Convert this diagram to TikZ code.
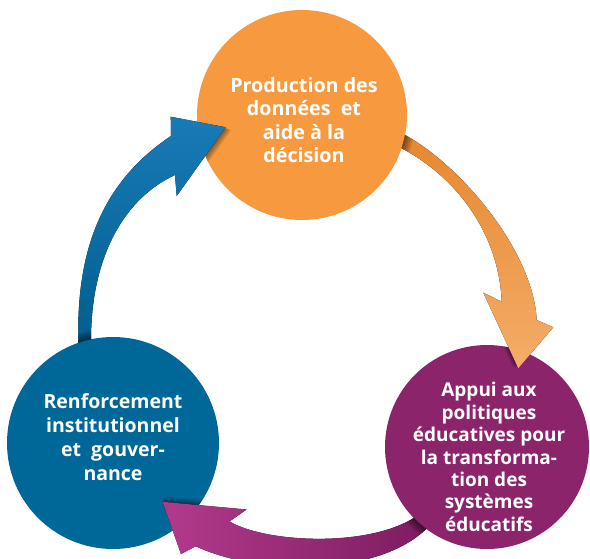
\documentclass[tikz,border=0pt]{standalone}
\usepackage{fontspec}
\setmainfont{Open Sans}
\definecolor{orangeC}{RGB}{247,154,63}
\definecolor{blueC}{RGB}{0,103,153}
\definecolor{purpleC}{RGB}{140,36,108}
\definecolor{blueA1}{RGB}{24,122,183}
\definecolor{blueA2}{RGB}{0,92,138}
\definecolor{orA1}{RGB}{231,134,46}
\definecolor{orA2}{RGB}{244,173,104}
\definecolor{puA1}{RGB}{178,58,140}
\definecolor{puA2}{RGB}{122,26,94}
\def\pathBlue{(78,362) -- (78.3,336.7) .. controls (77,245) and (105,180) .. (171,136) -- (170.7,116.7) -- (225.7,127.3) -- (176.7,196) -- (175,175) .. controls (125,198) and (92,255) .. (91,336.7) -- (91,362) -- cycle}
\def\pathOrange{(393,128) -- (405,135) .. controls (460,165) and (533,250) .. (536.7,320) -- (553.3,327.3) -- (518.3,368.3) -- (483.3,292.7) -- (501.7,301.7) .. controls (499,235) and (458,178) .. (401.7,148.3) -- (390,142) -- cycle}
\def\pathPurple{(434,503) -- (421,513) .. controls (375,549) and (265,543) .. (229.6,521.4) -- (246.5,509.5) -- (162.6,501.8) -- (181,554) -- (195.7,546.3) .. controls (265,578) and (385,575) .. (430,525) -- (443,514) -- cycle}
\def\bigrect{(-50,-50) -- (650,-50) -- (650,650) -- (-50,650) -- cycle}
\tikzset{
  disc/.style={circle, inner sep=0pt, minimum size=#1},
  lbl/.style={text=white, align=center, inner sep=0pt},
  tipshadow/.style={fill=black, opacity=0.09},
  ringshadow/.style={draw=black, opacity=0.07}
}
\begin{document}
\begin{tikzpicture}[x=1pt,y=-1pt]
\useasboundingbox (0,0) rectangle (590,558);
% circles
\node[disc=210pt, fill=orangeC] (prod) at (302,115) {};
\node[disc=212pt, fill=blueC] (renf) at (113,443) {};
\node[disc=204pt, fill=purpleC] (appui) at (487,447) {};
% tip shadows on target circles
\begin{scope}
  \clip (prod.center) circle[radius=105];
  \foreach \k in {1,...,5} \fill[tipshadow, shift={(\k*1.1,\k*0.6)}] \pathBlue;
\end{scope}
\begin{scope}
  \clip (appui.center) circle[radius=102];
  \foreach \k in {1,...,5} \fill[tipshadow, shift={(-\k*1.1,-\k*0.3)}] \pathOrange;
\end{scope}
\begin{scope}
  \clip (renf.center) circle[radius=106];
  \foreach \k in {1,...,5} \fill[tipshadow, shift={(\k*0.1,-\k*1.1)}] \pathPurple;
\end{scope}
% blue arrow (from renf to prod)
\begin{scope}
  \clip \bigrect (renf.center) ++(106,0) arc[start angle=0, end angle=-360, radius=106] -- cycle;
  \fill[top color=blueA1, bottom color=blueA2] \pathBlue;
  \begin{scope}
    \clip \pathBlue;
    \foreach \k in {1,...,8} \draw[ringshadow, line width=\k*2.2pt] (renf.center) circle[radius=106];
  \end{scope}
\end{scope}
% orange arrow (from prod to appui)
\begin{scope}
  \clip \bigrect (prod.center) ++(105,0) arc[start angle=0, end angle=-360, radius=105] -- cycle;
  \fill[top color=orA1, bottom color=orA2] \pathOrange;
  \begin{scope}
    \clip \pathOrange;
    \foreach \k in {1,...,8} \draw[ringshadow, line width=\k*2.2pt] (prod.center) circle[radius=105];
  \end{scope}
\end{scope}
% purple arrow (from appui to renf)
\begin{scope}
  \clip \bigrect (appui.center) ++(102,0) arc[start angle=0, end angle=-360, radius=102] -- cycle;
  \fill[left color=puA1, right color=puA2] \pathPurple;
  \begin{scope}
    \clip \pathPurple;
    \foreach \k in {1,...,8} \draw[ringshadow, line width=\k*2.2pt] (appui.center) circle[radius=102];
  \end{scope}
\end{scope}
% labels
\node[lbl, font=\bfseries\fontsize{19.7}{23.5}\selectfont] (prodt) at (304,120) {Production des\\données~ et\\aide à la\\décision};
\node[lbl, font=\bfseries\fontsize{19.5}{23.8}\selectfont] (renft) at (113,437) {Renforcement\\institutionnel\\et~ gouver-\\nance};
\node[lbl, font=\bfseries\fontsize{19}{22.4}\selectfont] (appuit) at (489,457) {Appui aux\\politiques\\éducatives pour\\la transforma-\\tion des\\systèmes\\éducatifs};
\end{tikzpicture}
\end{document}
